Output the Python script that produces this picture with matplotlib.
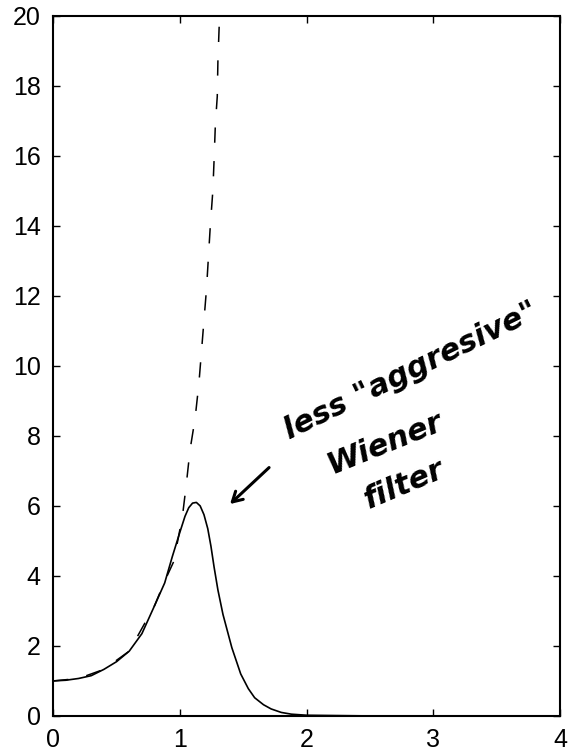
import matplotlib
matplotlib.use('Agg')
import matplotlib.pyplot as plt

# solid curve (less aggressive Wiener filter)
wiener_x = [0, 0.1, 0.2, 0.3, 0.4, 0.5, 0.6, 0.7, 0.8, 0.88, 0.94, 1.0, 1.04,
            1.07, 1.1, 1.13, 1.16, 1.19, 1.22, 1.245, 1.27, 1.3, 1.34, 1.41, 1.48, 1.54,
            1.59, 1.66, 1.72, 1.8, 1.88, 2.0, 2.5, 3.0, 4.0]
wiener_y = [1.0, 1.02, 1.07, 1.15, 1.33, 1.55, 1.85, 2.35, 3.15, 3.8, 4.55, 5.25, 5.7,
            5.95, 6.08, 6.1, 6.0, 5.75, 5.35, 4.85, 4.25, 3.6, 2.9, 1.95, 1.2, 0.78,
            0.52, 0.32, 0.2, 0.1, 0.05, 0.02, 0.0, 0.0, 0.0]

# dashed curve (inverse filter), shoots off the top
inverse_x = [0, 0.2, 0.4, 0.6, 0.8, 0.88, 0.95, 0.98, 1.02, 1.05, 1.08, 1.12, 1.15,
             1.17, 1.19, 1.21, 1.23, 1.24, 1.26, 1.27, 1.28, 1.295, 1.30, 1.31, 1.32]
inverse_y = [1.0, 1.07, 1.33, 1.85, 3.15, 3.85, 4.4, 4.95, 5.7, 6.6, 7.6, 8.5, 9.5,
             10.4, 11.3, 12.2, 13.4, 14.0, 15.0, 15.9, 16.9, 17.7, 18.7, 19.7, 21.0]

x_ticks = [0, 1, 2, 3, 4]
y_ticks = [0, 2, 4, 6, 8, 10, 12, 14, 16, 18, 20]

plt.rcParams['font.family'] = ['Liberation Sans', 'DejaVu Sans']

fig = plt.figure(figsize=(5.72, 7.56), dpi=100)
ax = fig.add_axes([0.093, 0.053, 0.886, 0.926])

ax.plot(inverse_x, inverse_y, color='k', lw=1.1, linestyle=(0, (10, 12)))
ax.plot(wiener_x, wiener_y, color='k', lw=1.2)

ax.set_xlim(0, 4)
ax.set_ylim(0, 20)
ax.set_xticks(x_ticks)
ax.set_yticks(y_ticks)
ax.tick_params(direction='in', length=5, width=1, top=True, right=True,
               labelsize=18, pad=9)
for s in ax.spines.values():
    s.set_linewidth(1.5)

# handwritten note
hand = dict(color='k', fontsize=22, fontstyle='italic', fontweight='bold',
            ha='center', va='center', family=['DejaVu Sans'])
ax.text(2.82, 9.85, 'less "aggresive"', rotation=26, **hand)
ax.text(2.62, 7.8, 'Wiener', rotation=22, **hand)
ax.text(2.77, 6.6, 'filter', rotation=23, **hand)
ax.annotate('', xy=(1.38, 6.0), xytext=(1.72, 7.15),
            arrowprops=dict(arrowstyle='->,head_length=0.7,head_width=0.4',
                            color='k', lw=2.2))

fig.savefig('out.png', dpi=100)
